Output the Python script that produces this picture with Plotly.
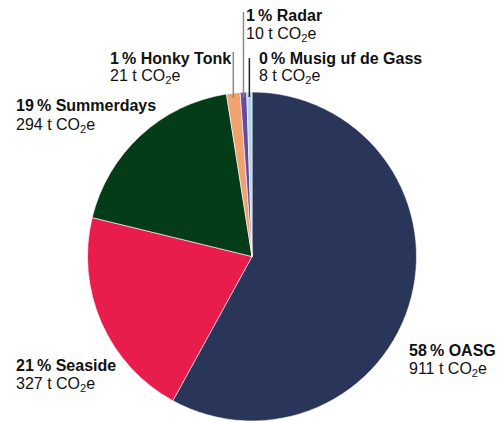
import math
import plotly.graph_objects as go

# ---- data ----
names = ["OASG", "Seaside", "Summerdays", "Honky Tonk", "Radar", "Musig uf de Gass"]
tonnes = [911, 327, 294, 21, 10, 8]
pct_labels = ["58\u2009%", "21\u2009%", "19\u2009%", "1\u2009%", "1\u2009%", "0\u2009%"]
colors = ["#2a3659", "#e81d4c", "#033c17", "#f0a26f", "#6a4a9c", "#acd9ea"]

W, H = 504, 421
# pie placement (pixels)
cx_px, top_px, diam = 252, 92, 329

fig = go.Figure()
fig.add_trace(go.Pie(
    labels=names, values=tonnes, sort=False, direction="clockwise", rotation=0,
    marker=dict(colors=colors, line=dict(color="white", width=0.6)),
    textinfo="none", hoverinfo="label+value",
    domain=dict(x=[(cx_px - diam / 2) / W, (cx_px + diam / 2) / W],
                y=[1 - (top_px + diam) / H, 1 - top_px / H]),
    showlegend=False,
))

# label placement (pixels: left x, y of bold line centre)
label_pos = {
    "OASG": (407, 350),
    "Seaside": (14, 365),
    "Summerdays": (14, 106),
    "Honky Tonk": (108, 58),
    "Radar": (244, 15),
    "Musig uf de Gass": (257, 58),
}
font_fam = "Liberation Sans, Arial, sans-serif"
anns = []
for n, t, p in zip(names, tonnes, pct_labels):
    x, y = label_pos[n]
    anns.append(dict(x=x / W, y=1 - y / H, xref="paper", yref="paper",
                     xanchor="left", yanchor="middle", showarrow=False,
                     text=f"<b>{p} {n}</b>",
                     font=dict(family=font_fam, size=16, color="#111111")))
    anns.append(dict(x=x / W, y=1 - (y + 19) / H, xref="paper", yref="paper",
                     xanchor="left", yanchor="middle", showarrow=False,
                     text=f"{t} t CO<sub>2</sub>e",
                     font=dict(family=font_fam, size=16, color="#111111")))

# leader lines for the small slices, placed at each slice's mid angle
total = sum(tonnes)
r = diam / 2
cy_px = top_px + r
cum = 0
shapes = []
line_tops = {"Honky Tonk": (52, "#8a8a8a"), "Radar": (12, "#8a8a8a"), "Musig uf de Gass": (58, "#222222")}
for n, t in zip(names, tonnes):
    mid = (cum + t / 2) / total * 2 * math.pi
    cum += t
    if n in line_tops:
        xpx = cx_px + r * math.sin(mid)
        ypx = cy_px - r * math.cos(mid) + 5
        ytop, col = line_tops[n]
        shapes.append(dict(type="line", xref="paper", yref="paper",
                           x0=xpx / W, x1=xpx / W, y0=1 - ypx / H, y1=1 - ytop / H,
                           line=dict(color=col, width=1.5)))

fig.update_layout(
    width=W, height=H, margin=dict(l=0, r=0, t=0, b=0),
    paper_bgcolor="white", plot_bgcolor="white",
    annotations=anns, shapes=shapes,
)
fig.write_html("out.html", config={"displayModeBar": False},
               post_script="document.body.style.margin='0';")
